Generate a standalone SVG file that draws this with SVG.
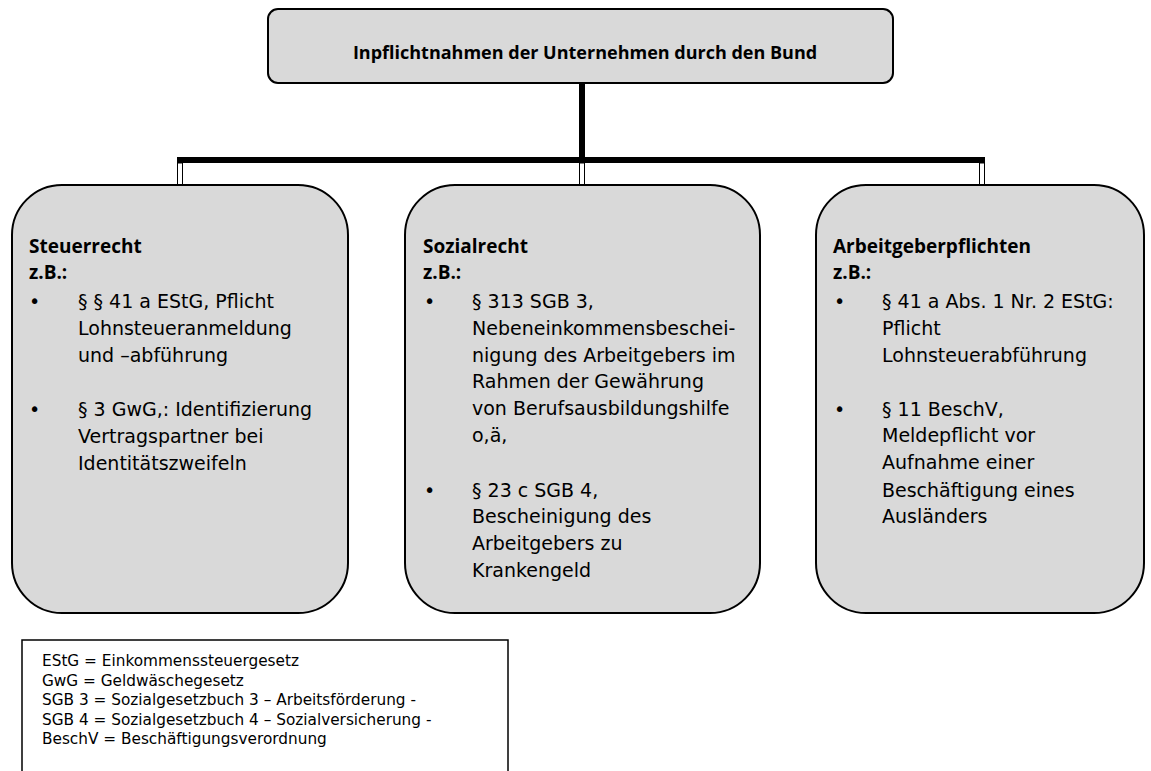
<svg xmlns="http://www.w3.org/2000/svg" width="1151" height="771" viewBox="0 0 1151 771">
<style>
.box{fill:#d9d9d9;stroke:#000;stroke-width:2}
.t{font-family:"DejaVu Sans","Noto Sans",sans-serif;font-size:19px;fill:#000}
.h{font-family:"Open Sans","Noto Sans",sans-serif;font-size:19px;font-weight:bold;fill:#000}
.leg{font-family:"DejaVu Sans","Noto Sans",sans-serif;font-size:15.3px;fill:#000}
</style>
<rect width="1151" height="771" fill="#fff"/>
<g id="connectors">
<rect x="579" y="83" width="6" height="76" fill="#000"/>
<rect x="177" y="157" width="808" height="6" fill="#000"/>
<rect x="177.5" y="163" width="5" height="22" fill="#fff" stroke="#000" stroke-width="1"/>
<rect x="579.5" y="163" width="5" height="22" fill="#fff" stroke="#000" stroke-width="1"/>
<rect x="979.5" y="163" width="5" height="22" fill="#fff" stroke="#000" stroke-width="1"/>
</g>
<g id="top">
<rect class="box" x="268" y="9" width="625" height="74" rx="10"/>
<text class="h" x="585" y="59" text-anchor="middle" style="font-size:18px">Inpflichtnahmen der Unternehmen durch den Bund</text>
</g>
<g id="steuerrecht">
<rect class="box" x="12" y="185" width="336" height="428" rx="50"/>
<text class="h" x="29" y="253">Steuerrecht</text>
<text class="h" x="29" y="279">z.B.:</text>
<text class="t" x="29" y="308">•</text>
<text class="t" x="78" y="308">§ § 41 a EStG, Pflicht</text>
<text class="t" x="78" y="335">Lohnsteueranmeldung</text>
<text class="t" x="78" y="362">und –abführung</text>
<text class="t" x="29" y="416">•</text>
<text class="t" x="78" y="416">§ 3 GwG,: Identifizierung</text>
<text class="t" x="78" y="443">Vertragspartner bei</text>
<text class="t" x="78" y="470">Identitätszweifeln</text>
</g>
<g id="sozialrecht">
<rect class="box" x="405" y="185" width="355" height="428" rx="50"/>
<text class="h" x="423" y="253">Sozialrecht</text>
<text class="h" x="423" y="279">z.B.:</text>
<text class="t" x="424" y="308">•</text>
<text class="t" x="472" y="308">§ 313 SGB 3,</text>
<text class="t" x="472" y="335">Nebeneinkommensbeschei-</text>
<text class="t" x="472" y="362">nigung des Arbeitgebers im</text>
<text class="t" x="472" y="388">Rahmen der Gewährung</text>
<text class="t" x="472" y="415">von Berufsausbildungshilfe</text>
<text class="t" x="472" y="442">o,ä,</text>
<text class="t" x="424" y="497">•</text>
<text class="t" x="472" y="497">§ 23 c SGB 4,</text>
<text class="t" x="472" y="523">Bescheinigung des</text>
<text class="t" x="472" y="550">Arbeitgebers zu</text>
<text class="t" x="472" y="577">Krankengeld</text>
</g>
<g id="arbeitgeber">
<rect class="box" x="816" y="185" width="328" height="428" rx="50"/>
<text class="h" x="833" y="253">Arbeitgeberpflichten</text>
<text class="h" x="833" y="279">z.B.:</text>
<text class="t" x="834" y="308">•</text>
<text class="t" x="882" y="308">§ 41 a Abs. 1 Nr. 2 EStG:</text>
<text class="t" x="882" y="335">Pflicht</text>
<text class="t" x="882" y="362">Lohnsteuerabführung</text>
<text class="t" x="834" y="416">•</text>
<text class="t" x="882" y="416">§ 11 BeschV,</text>
<text class="t" x="882" y="442">Meldepflicht vor</text>
<text class="t" x="882" y="469">Aufnahme einer</text>
<text class="t" x="882" y="497">Beschäftigung eines</text>
<text class="t" x="882" y="523">Ausländers</text>
</g>
<g id="legend">
<rect x="22" y="640" width="486" height="145" fill="#fff" stroke="#000" stroke-width="1.5"/>
<text class="leg" x="42" y="666">EStG = Einkommenssteuergesetz</text>
<text class="leg" x="42" y="685.5">GwG = Geldwäschegesetz</text>
<text class="leg" x="42" y="705">SGB 3 = Sozialgesetzbuch 3 – Arbeitsförderung -</text>
<text class="leg" x="42" y="724.5">SGB 4 = Sozialgesetzbuch 4 – Sozialversicherung -</text>
<text class="leg" x="42" y="744">BeschV = Beschäftigungsverordnung</text>
</g>
</svg>
